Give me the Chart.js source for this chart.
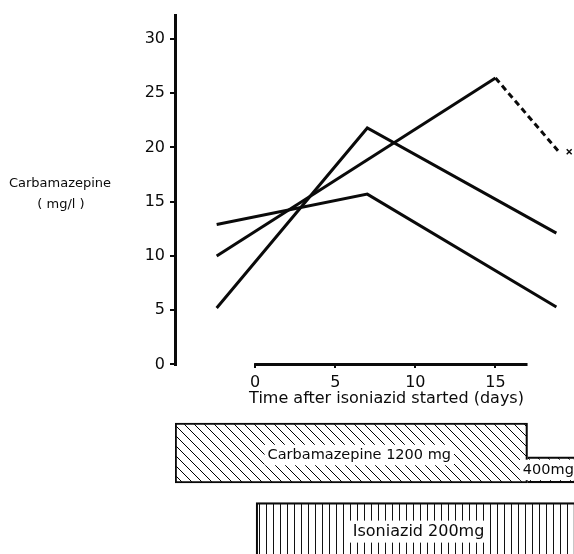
<!DOCTYPE html>
<html>
<head>
<meta charset="UTF-8">
<title>Carbamazepine and isoniazid</title>
<script src="https://cdn.jsdelivr.net/npm/chart.js"></script>
<style>
  body { margin: 0; background: #fff; }
  #chart { display: block; }
</style>
</head>
<body>
<canvas id="chart" width="574" height="554"></canvas>
<script>
// serum carbamazepine (mg/l) against days after isoniazid was started, one line per patient
const daysA = [-2.4, 7, 18.8];
const levelA = [5.2, 21.8, 12.1];
const daysB = [-2.4, 7, 18.8];
const levelB = [12.9, 15.7, 5.3];
const daysC = [-2.4, 15, 18.9];
const levelC = [10.0, 26.4, 19.7];
const markDay = [19.6];
const markLevel = [19.6];

const yTicks = [0, 5, 10, 15, 20, 25, 30];
const xTicks = [0, 5, 10, 15];
const xAxisEnd = 17;

// dosing periods (days)
const doseLabels = ['Carbamazepine 1200 mg', '400mg', 'Isoniazid 200mg'];
const doseFrom = [-5, 17, 0];
const doseTo = [17, 20, 20];

const ink = '#0a0a0a';
Chart.defaults.font.family = '"DejaVu Sans", sans-serif';
Chart.defaults.font.size = 16;
Chart.defaults.color = ink;

const canvas = document.getElementById('chart');
const ctx = canvas.getContext('2d');

function hatch(kind) {
    const c = document.createElement('canvas');
    const g = c.getContext('2d');
    g.strokeStyle = '#111';
    g.lineWidth = 1.2;
    if (kind === 'diag') {
        c.width = 10; c.height = 10;
        g.beginPath();
        g.moveTo(-1, -1); g.lineTo(11, 11);
        g.moveTo(-1, 9); g.lineTo(1, 11);
        g.moveTo(9, -1); g.lineTo(11, 1);
        g.stroke();
    } else {
        c.width = 7; c.height = 4;
        g.fillStyle = '#111';
        g.fillRect(0, 0, 1, 4);
    }
    return ctx.createPattern(c, 'repeat');
}

const pts = (xs, ys) => xs.map((x, i) => ({ x: x, y: ys[i] }));

const lineStyle = {
    type: 'line',
    borderColor: ink,
    borderWidth: 3,
    borderJoinStyle: 'miter',
    pointRadius: 0,
    fill: false,
    tension: 0,
    order: 0
};

const barStyle = {
    type: 'bar',
    indexAxis: 'y',
    stack: 'dose',
    borderColor: ink,
    borderSkipped: false
};

const paperAxes = {
    id: 'paperAxes',
    afterDatasetsDraw(chart, args, opts) {
        const { ctx, scales: { x, y } } = chart;
        const y0 = y.getPixelForValue(0);
        ctx.save();
        ctx.strokeStyle = ink;
        ctx.lineWidth = 3;
        ctx.beginPath();
        ctx.moveTo(x.left + 0.5, y0 + 1.5);
        ctx.lineTo(x.left + 0.5, y.top);
        ctx.moveTo(x.getPixelForValue(0) - 1, y0);
        ctx.lineTo(x.getPixelForValue(xAxisEnd), y0);
        ctx.stroke();

        ctx.fillStyle = ink;
        ctx.textAlign = 'center';
        ctx.textBaseline = 'alphabetic';
        ctx.font = '16px "DejaVu Sans", sans-serif';
        ctx.fillText('Time after isoniazid started (days)', x.getPixelForValue(opts.titleAt), y0 + 39);

        ctx.font = '13px "DejaVu Sans", sans-serif';
        ctx.fillText('Carbamazepine', 60, 187);
        ctx.fillText('( mg/l )', 61, 208);

        // dose labels sit on white patches over the hatching
        chart.data.datasets.forEach((ds, i) => {
            if (ds.type !== 'bar') return;
            const bar = chart.getDatasetMeta(i).data[0];
            const k = ds.doseIndex;
            ctx.font = opts.sizes[k] + 'px "DejaVu Sans", sans-serif';
            const cx = x.getPixelForValue(opts.at[k]);
            const cy = bar.y + opts.dy[k];
            const w = ctx.measureText(doseLabels[k]).width;
            const h = opts.sizes[k];
            ctx.fillStyle = '#fff';
            ctx.fillRect(cx - w / 2 - 3, cy - h / 2 - 3, w + 6, h + 6);
            ctx.fillStyle = ink;
            ctx.textBaseline = 'middle';
            ctx.fillText(doseLabels[k], cx, cy);
        });
        ctx.restore();
    }
};

new Chart(ctx, {
    type: 'line',
    data: {
        datasets: [
            Object.assign({ data: pts(daysA, levelA) }, lineStyle),
            Object.assign({ data: pts(daysB, levelB) }, lineStyle),
            Object.assign({
                data: pts(daysC, levelC),
                segment: { borderDash: c => c.p0DataIndex >= 1 ? [6, 4] : undefined }
            }, lineStyle),
            {
                type: 'scatter',
                data: pts(markDay, markLevel),
                pointStyle: 'crossRot',
                pointRadius: 3.5,
                borderColor: ink,
                borderWidth: 1.5,
                order: 0
            },
            Object.assign({}, barStyle, {
                doseIndex: 0,
                data: [{ x: [doseFrom[0], doseTo[0]], y: -8.16 }],
                barThickness: 60,
                backgroundColor: hatch('diag'),
                borderWidth: 1.5,
                order: 3
            }),
            Object.assign({}, barStyle, {
                doseIndex: 1,
                data: [{ x: [doseFrom[1], doseTo[1]], y: -9.72 }],
                barThickness: 26,
                backgroundColor: hatch('diag'),
                borderWidth: { top: 1.5, right: 1.5, bottom: 1.5, left: 0 },
                order: 2
            }),
            Object.assign({}, barStyle, {
                doseIndex: 2,
                data: [{ x: [doseFrom[2], doseTo[2]], y: -15.5 }],
                barThickness: 60,
                backgroundColor: hatch('vert'),
                borderWidth: 1.5,
                order: 3
            })
        ]
    },
    options: {
        responsive: false,
        animation: false,
        events: [],
        layout: { autoPadding: false, padding: { top: 14, left: 0, right: 0, bottom: 0 } },
        scales: {
            x: {
                type: 'linear',
                min: -5,
                max: 19.9,
                offset: false,
                stacked: false,
                position: { y: 0 },
                border: { display: false },
                grid: { offset: false, drawOnChartArea: false, drawTicks: true, tickLength: 4, color: ink, lineWidth: 2 },
                ticks: { padding: 5 },
                afterBuildTicks: s => { s.ticks = xTicks.map(v => ({ value: v })); },
                afterFit: s => { s.height = 0; s.paddingLeft = 0; s.paddingRight = 0; }
            },
            y: {
                type: 'linear',
                min: -17.47,
                max: 32.3,
                offset: false,
                border: { display: false },
                grid: { offset: false, drawOnChartArea: false, drawTicks: true, tickLength: 5, color: ink, lineWidth: 2 },
                ticks: { padding: 5 },
                afterBuildTicks: s => { s.ticks = yTicks.map(v => ({ value: v })); },
                afterFit: s => { s.width = 175; s.paddingTop = 0; s.paddingBottom = 0; }
            }
        },
        plugins: {
            legend: { display: false },
            tooltip: { enabled: false },
            paperAxes: {
                titleAt: 8.2,
                at: [6.5, 18.3, 10.2],
                dy: [2, 0, -1],
                sizes: [14.5, 14.5, 16]
            }
        }
    },
    plugins: [paperAxes]
});
</script>
</body>
</html>
